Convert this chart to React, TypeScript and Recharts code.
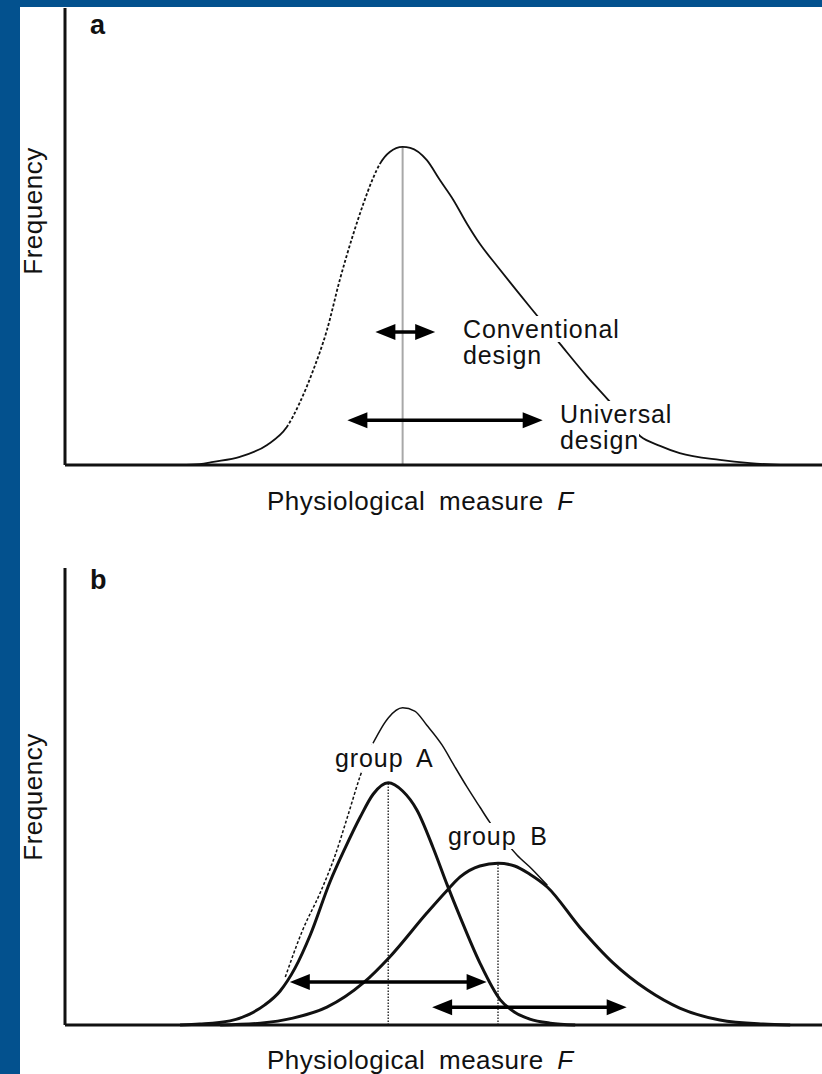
import React from "react"
import { ComposedChart, Line, XAxis, YAxis, ReferenceLine, Label } from "recharts"

// F and frequency both on a 0-100 scale

// panel a: whole population
const popF = [15.2, 17.8, 19.6, 23.1, 26.7, 29.3, 31.0, 32.8, 34.6, 36.3, 38.0, 39.4, 40.6, 41.6, 42.9, 44.6, 45.6, 47.8, 49.5, 51.3, 53.1, 54.8, 57.1, 59.7, 62.4, 65.4, 69.0, 72.0, 74.0, 76.0, 78.6, 81.2, 86.5, 90.5, 94.5]
const popFreq = [0, 0.2, 0.7, 1.8, 4.4, 8.3, 13.6, 20.8, 29.5, 40.5, 50.1, 57.1, 62.4, 65.9, 68.5, 69.6, 69.4, 66.7, 62.4, 58.0, 52.8, 48.4, 43.5, 38.1, 32.6, 26.5, 19.3, 13.8, 9.8, 6.3, 4.2, 2.6, 1.1, 0.4, 0]
const popDashed = [5, 13] // index range drawn dashed

// panel b: two groups and their sum
const groupAF = [15.2, 17.8, 21.8, 24.4, 26.4, 28.4, 30.4, 32.4, 35.0, 37.0, 39.0, 40.7, 42.7, 44.6, 46.5, 48.6, 50.5, 52.2, 54.8, 57.5, 59.4, 61.4, 64.1, 67.4]
const groupAFreq = [0, 0.2, 0.9, 2.4, 4.4, 7.4, 12.5, 19.7, 31.3, 38.7, 45.5, 50.5, 53.0, 51.2, 47.0, 38.9, 30.6, 23.6, 13.6, 5.5, 2.8, 1.3, 0.4, 0]
const groupBF = [20.5, 25.8, 30.1, 34.6, 39.4, 42.9, 47.8, 50.5, 52.2, 54.8, 57.2, 59.4, 61.4, 63.7, 68.0, 72.4, 76.9, 81.2, 86.5, 92.2, 95.8]
const groupBFreq = [0, 0.4, 1.5, 3.9, 9.2, 14.9, 24.5, 29.5, 32.4, 34.8, 35.4, 34.8, 33.0, 30.2, 21.4, 13.6, 7.7, 3.7, 1.1, 0.2, 0]
const sumF = [29.1, 31.4, 33.7, 35.7, 37.4, 39.0, 40.7, 42.7, 44.6, 46.2, 47.8, 49.8, 51.5, 53.1, 54.8, 56.1, 58.1, 59.7, 61.7, 63.7]
const sumFreq = [10.5, 20.8, 28.9, 37.2, 46.0, 54.5, 61.7, 67.2, 69.4, 68.7, 65.6, 61.3, 56.5, 52.1, 47.7, 44.4, 40.3, 37.2, 34.1, 30.6]
const sumDashedEnd = 6

// design ranges (double arrows): [from, to] and height
const designRangesA = [[41.0, 48.9], [37.3, 63.1]]
const designLevelsA = [29.1, 9.8]
const designRangesB = [[29.7, 55.7], [48.5, 74.2]]
const designLevelsB = [9.4, 3.9]

const FONT = '"Liberation Sans", Arial, sans-serif'
const INK = "#111"
const axisStyle = { stroke: INK, strokeWidth: 3 }
const PLOT_W = 757
const PLOT_H = 457

const rows = (xs: number[], ys: number[], from = 0, to = xs.length) =>
  xs.slice(from, to).map((f, i) => ({ f, freq: ys[from + i] }))

const peak = (xs: number[], ys: number[]) => {
  const i = ys.indexOf(Math.max(...ys))
  return { f: xs[i], freq: ys[i] }
}

// approximate on-screen length of a stretch of the curve, used to place the dashed part
const pathLen = (xs: number[], ys: number[], from: number, to: number) => {
  let len = 0
  for (let i = from; i < to; i++) {
    len += Math.hypot(((xs[i + 1] - xs[i]) * PLOT_W) / 100, ((ys[i + 1] - ys[i]) * PLOT_H) / 100)
  }
  return len
}

const partlyDashed = (xs: number[], ys: number[], from: number, to: number) => {
  const head = pathLen(xs, ys, 0, from)
  const n = Math.round(pathLen(xs, ys, from, to) / 5)
  return `${head.toFixed(1)} 0 ${"3 2 ".repeat(n)}3000`
}

function Arrow(props: any) {
  const { x1, x2, y1 } = props
  const l = Math.min(x1, x2)
  const r = Math.max(x1, x2)
  const y = y1
  const len = 20
  const half = 8
  return (
    <g>
      <line x1={l + len - 2} y1={y} x2={r - len + 2} y2={y} stroke="#000" strokeWidth={3.5} />
      <polygon points={`${l},${y} ${l + len},${y - half} ${l + len},${y + half}`} fill="#000" />
      <polygon points={`${r},${y} ${r - len},${y - half} ${r - len},${y + half}`} fill="#000" />
    </g>
  )
}

function Note({ x, baseline, lines }: { x: number; baseline: number; lines: string[] }) {
  return (
    <div
      style={{
        position: "absolute",
        left: x,
        top: baseline - 22,
        fontSize: 25,
        lineHeight: "26px",
        letterSpacing: 0.9,
        wordSpacing: 6,
        color: INK,
        whiteSpace: "pre",
      }}
    >
      {lines.map((l, i) => (
        <div key={i} style={{ width: "fit-content", height: 26, background: "#fff" }}>
          {l}
        </div>
      ))}
    </div>
  )
}

function PanelLetter({ text, baseline }: { text: string; baseline: number }) {
  return (
    <div style={{ position: "absolute", left: 90, top: baseline - 23, fontSize: 27, lineHeight: "27px", fontWeight: "bold", color: INK }}>
      {text}
    </div>
  )
}

const xTitle = (baseline: number) => () => (
  <text x={267} y={baseline} fontFamily={FONT} fontSize={26} letterSpacing={0.5} wordSpacing={6} fill={INK}>
    Physiological measure <tspan fontStyle="italic">F</tspan>
  </text>
)

const yTitle = (center: number) => () => (
  <text
    x={42}
    y={center}
    transform={`rotate(-90 42 ${center})`}
    textAnchor="middle"
    fontFamily={FONT}
    fontSize={26}
    letterSpacing={0.5}
    fill={INK}
  >
    Frequency
  </text>
)

export default function App() {
  const popPeak = peak(popF, popFreq)
  const aPeak = peak(groupAF, groupAFreq)
  const bPeak = peak(groupBF, groupBFreq)

  return (
    <div
      style={{
        position: "absolute",
        left: 0,
        top: 0,
        width: 822,
        height: 1074,
        background: "#03518e",
        overflow: "hidden",
        fontFamily: FONT,
      }}
    >
      <div style={{ position: "absolute", left: 20, top: 7, right: 0, bottom: 0, background: "#fff" }} />

      {/* panel a */}
      <div style={{ position: "absolute", left: 0, top: 0 }}>
        <ComposedChart width={822} height={530} margin={{ top: 8, right: 0, bottom: 0, left: 0 }}>
          <XAxis type="number" dataKey="f" domain={[0, 100]} height={65} tick={false} tickLine={false} axisLine={axisStyle}>
            <Label content={xTitle(510)} />
          </XAxis>
          <YAxis type="number" dataKey="freq" domain={[0, 100]} width={65} tick={false} tickLine={false} axisLine={axisStyle}>
            <Label content={yTitle(211)} />
          </YAxis>
          <ReferenceLine
            segment={[{ x: popPeak.f, y: 0 }, { x: popPeak.f, y: popPeak.freq }]}
            stroke="#a8a8a8"
            strokeWidth={2}
          />
          <Line
            data={rows(popF, popFreq)}
            dataKey="freq"
            type="monotone"
            dot={false}
            stroke={INK}
            strokeWidth={1.8}
            strokeDasharray={partlyDashed(popF, popFreq, popDashed[0], popDashed[1])}
            isAnimationActive={false}
          />
          {designRangesA.map((r, i) => (
            <ReferenceLine key={i} segment={[{ x: r[0], y: designLevelsA[i] }, { x: r[1], y: designLevelsA[i] }]} shape={(p: any) => <Arrow {...p} />} />
          ))}
        </ComposedChart>
      </div>

      {/* panel b */}
      <div style={{ position: "absolute", left: 0, top: 540 }}>
        <ComposedChart width={822} height={534} margin={{ top: 28, right: 0, bottom: 0, left: 0 }}>
          <XAxis type="number" dataKey="f" domain={[0, 100]} height={49} tick={false} tickLine={false} axisLine={axisStyle}>
            <Label content={xTitle(529)} />
          </XAxis>
          <YAxis type="number" dataKey="freq" domain={[0, 100]} width={65} tick={false} tickLine={false} axisLine={axisStyle}>
            <Label content={yTitle(257)} />
          </YAxis>
          <ReferenceLine segment={[{ x: aPeak.f, y: 0 }, { x: aPeak.f, y: aPeak.freq }]} stroke="#333" strokeWidth={1.5} strokeDasharray="1.5 1.5" />
          <ReferenceLine segment={[{ x: bPeak.f, y: 0 }, { x: bPeak.f, y: bPeak.freq }]} stroke="#333" strokeWidth={1.5} strokeDasharray="1.5 1.5" />
          <Line data={rows(sumF, sumFreq, 0, sumDashedEnd + 1)} dataKey="freq" type="monotone" dot={false} stroke={INK} strokeWidth={1.5} strokeDasharray="3 2" isAnimationActive={false} />
          <Line data={rows(sumF, sumFreq, sumDashedEnd)} dataKey="freq" type="monotone" dot={false} stroke={INK} strokeWidth={1.5} isAnimationActive={false} />
          <Line data={rows(groupAF, groupAFreq)} dataKey="freq" type="monotone" dot={false} stroke={INK} strokeWidth={3} isAnimationActive={false} />
          <Line data={rows(groupBF, groupBFreq)} dataKey="freq" type="monotone" dot={false} stroke={INK} strokeWidth={3} isAnimationActive={false} />
          {designRangesB.map((r, i) => (
            <ReferenceLine key={i} segment={[{ x: r[0], y: designLevelsB[i] }, { x: r[1], y: designLevelsB[i] }]} shape={(p: any) => <Arrow {...p} />} />
          ))}
        </ComposedChart>
      </div>

      <PanelLetter text="a" baseline={35} />
      <PanelLetter text="b" baseline={590} />
      <Note x={463} baseline={338} lines={["Conventional", "design"]} />
      <Note x={560} baseline={423} lines={["Universal", "design"]} />
      <Note x={335} baseline={767} lines={["group A"]} />
      <Note x={448} baseline={845} lines={["group B"]} />
    </div>
  )
}
